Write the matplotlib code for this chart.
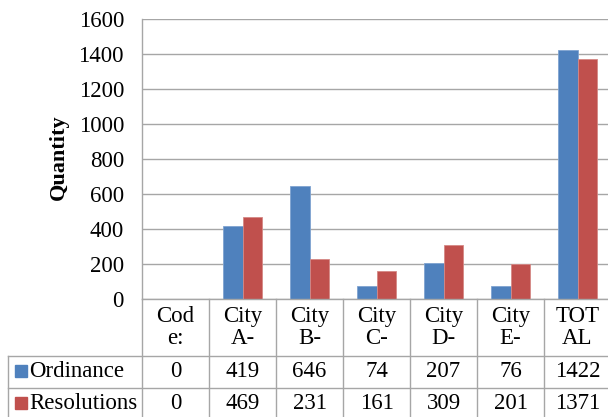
import numpy as np
import matplotlib
matplotlib.use("Agg")
import matplotlib.pyplot as plt
from matplotlib.transforms import blended_transform_factory
from matplotlib.lines import Line2D

plt.rcParams['font.family'] = ['Liberation Serif', 'DejaVu Serif']

# data
categories = ['Cod\ne:', 'City\nA-', 'City\nB-', 'City\nC-', 'City\nD-', 'City\nE-', 'TOT\nAL']
ordinance = [0, 419, 646, 74, 207, 76, 1422]
resolutions = [0, 469, 231, 161, 309, 201, 1371]
series = ['Ordinance', 'Resolutions']
colors = ['#4F81BD', '#C0504D']
y_ticks = [0, 200, 400, 600, 800, 1000, 1200, 1400, 1600]

grid_color = '#A6A6A6'
fs = 16.5

fig = plt.figure(figsize=(6.08, 4.17), dpi=100)
ax = fig.add_axes([142 / 608, 118 / 417, 469 / 608, 280 / 417])

x = np.arange(len(categories))
w = 0.29
ax.bar(x - w / 2, ordinance, w, color=colors[0], edgecolor='#7FA3D1', linewidth=0.6)
ax.bar(x + w / 2, resolutions, w, color=colors[1], edgecolor='#D58885', linewidth=0.6)

ax.set_xlim(-0.5, len(categories) - 0.5)
ax.set_ylim(0, 1600)
ax.set_yticks(y_ticks)
ax.set_yticklabels([str(v) for v in y_ticks], fontsize=fs)
ax.tick_params(axis='y', length=0, pad=13)
ax.set_xticks([])
ax.grid(True, axis='y', color=grid_color, linewidth=1.0)
ax.set_axisbelow(True)
for s in ['top', 'right']:
    ax.spines[s].set_visible(False)
for s in ['left', 'bottom']:
    ax.spines[s].set_color(grid_color)
    ax.spines[s].set_linewidth(1.0)

ax.set_ylabel('Quantity', fontsize=16, fontweight='bold')
ax.yaxis.set_label_coords(-0.156, 0.505)

# data table below the axis
tr = blended_transform_factory(ax.transData, ax.transAxes)
n = len(categories)
row_edges = [0.0, -0.2036, -0.318, -0.432]
label_left = -2.5

def hline(x0, x1, y):
    ax.add_line(Line2D([x0, x1], [y, y], transform=tr, color=grid_color,
                       linewidth=1.0, clip_on=False))

def vline(xv, y0, y1):
    ax.add_line(Line2D([xv, xv], [y0, y1], transform=tr, color=grid_color,
                       linewidth=1.0, clip_on=False))

hline(label_left, n - 0.5, row_edges[1])
hline(label_left, n - 0.5, row_edges[2])
vline(label_left, row_edges[1], row_edges[3])
for k in range(n + 1):
    vline(k - 0.5, row_edges[0], row_edges[3])

for i, lab in enumerate(categories):
    ax.text(i, (row_edges[0] + row_edges[1]) / 2, lab, transform=tr, ha='center',
            va='center', fontsize=fs, linespacing=1.05, clip_on=False)

for r, (name, vals) in enumerate(zip(series, [ordinance, resolutions])):
    yc = (row_edges[r + 1] + row_edges[r + 2]) / 2 + 0.002
    ax.plot([-2.31], [yc], marker='s', markersize=8, color=colors[r],
            transform=tr, clip_on=False, linestyle='none')
    ax.text(-2.18, yc, name, transform=tr, ha='left', va='center',
            fontsize=fs, clip_on=False)
    for i, v in enumerate(vals):
        ax.text(i, yc, str(v), transform=tr, ha='center', va='center',
                fontsize=fs, clip_on=False)

fig.savefig('out.png', dpi=100)
